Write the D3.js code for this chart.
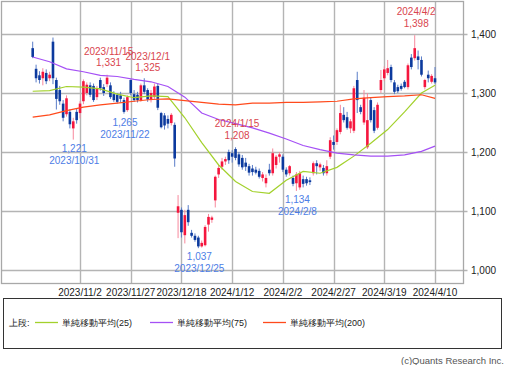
<!DOCTYPE html>
<html><head><meta charset="utf-8">
<script src="https://cdn.jsdelivr.net/npm/d3@7"></script>
<style>
html,body{margin:0;padding:0;background:#fff;}
svg{display:block;}
text{font-family:"Liberation Sans",Arial,sans-serif;}
</style></head>
<body>
<svg id="chart" width="508" height="365"></svg>
<script>
const dates = [
"2023/10/13","2023/10/16","2023/10/17","2023/10/18","2023/10/19","2023/10/20","2023/10/23","2023/10/24","2023/10/25","2023/10/26","2023/10/27","2023/10/30","2023/10/31",
"2023/11/1","2023/11/2","2023/11/6","2023/11/7","2023/11/8","2023/11/9","2023/11/10","2023/11/13","2023/11/14","2023/11/15","2023/11/16","2023/11/17","2023/11/20","2023/11/21","2023/11/22","2023/11/24","2023/11/27","2023/11/28","2023/11/29","2023/11/30",
"2023/12/1","2023/12/4","2023/12/5","2023/12/6","2023/12/7","2023/12/8","2023/12/11","2023/12/12","2023/12/13","2023/12/14","2023/12/15","2023/12/18","2023/12/19","2023/12/20","2023/12/21","2023/12/22","2023/12/25","2023/12/26","2023/12/27","2023/12/28","2023/12/29",
"2024/1/4","2024/1/5","2024/1/9","2024/1/10","2024/1/11","2024/1/12","2024/1/15","2024/1/16","2024/1/17","2024/1/18","2024/1/19","2024/1/22","2024/1/23","2024/1/24","2024/1/25","2024/1/26","2024/1/29","2024/1/30","2024/1/31",
"2024/2/1","2024/2/2","2024/2/5","2024/2/6","2024/2/7","2024/2/8","2024/2/9","2024/2/13","2024/2/14","2024/2/15","2024/2/16","2024/2/19","2024/2/20","2024/2/21","2024/2/22","2024/2/26","2024/2/27","2024/2/28","2024/2/29",
"2024/3/1","2024/3/4","2024/3/5","2024/3/6","2024/3/7","2024/3/8","2024/3/11","2024/3/12","2024/3/13","2024/3/14","2024/3/15","2024/3/18","2024/3/19","2024/3/21","2024/3/22","2024/3/25","2024/3/26","2024/3/27","2024/3/28","2024/3/29",
"2024/4/1","2024/4/2","2024/4/3","2024/4/4","2024/4/5","2024/4/8","2024/4/9","2024/4/10"];

const open = [1376,1341,1330,1325,1334,1325,1387,1322,1305,1282,
1264,1268,1240,1268,1266,1286,1300,1313,1312,1293,
1322,1310,1315,1313,1298,1297,1296,1288,1271,1322,
1298,1297,1288,1313,1305,1288,1293,1312,1266,1262,
1256,1249,1246,1097,1102,1059,1102,1063,1058,1055,
1040,1042,1077,1085,1118,1162,1175,1184,1200,1198,
1205,1196,1190,1182,1176,1172,1170,1168,1156,1147,
1170,1164,1178,1192,1192,1170,1164,1156,1147,1140,
1154,1154,1152,1164,1181,1174,1173,1164,1192,1217,
1217,1234,1263,1259,1240,1236,1322,1276,1250,1208,
1288,1271,1241,1305,1325,1334,1344,1318,1310,1312,
1319,1310,1360,1359,1362,1356,1310,1331,1319,1325];
const high = [1387,1348,1337,1342,1340,1336,1394,1326,1312,1288,
1296,1272,1258,1273,1286,1323,1318,1318,1316,1312,
1326,1315,1331,1318,1303,1300,1302,1292,1296,1323,
1305,1302,1316,1325,1308,1305,1316,1316,1268,1266,
1262,1266,1250,1127,1106,1102,1110,1068,1062,1058,
1050,1076,1095,1092,1160,1178,1190,1192,1204,1203,
1208,1200,1195,1190,1180,1178,1175,1172,1166,1162,
1180,1206,1195,1200,1196,1174,1178,1160,1166,1168,
1160,1158,1157,1184,1186,1182,1178,1186,1225,1228,
1240,1280,1276,1268,1256,1312,1336,1280,1305,1300,
1292,1276,1284,1339,1345,1356,1348,1322,1314,1316,
1322,1350,1366,1398,1372,1362,1324,1338,1332,1344];
const low = [1359,1318,1316,1313,1315,1320,1315,1272,1280,1252,
1260,1240,1221,1248,1257,1281,1296,1293,1285,1288,
1304,1295,1310,1290,1285,1282,1284,1265,1268,1296,
1285,1284,1285,1298,1285,1284,1290,1271,1240,1238,
1240,1245,1175,1054,1055,1045,1075,1055,1048,1037,
1038,1040,1065,1080,1106,1156,1170,1178,1180,1182,
1186,1175,1170,1168,1160,1160,1162,1155,1150,1140,
1160,1160,1172,1182,1166,1158,1160,1142,1134,1136,
1140,1143,1144,1160,1162,1168,1160,1160,1188,1204,
1212,1230,1250,1238,1232,1232,1266,1264,1246,1205,
1250,1232,1238,1300,1320,1330,1318,1298,1300,1304,
1308,1306,1340,1355,1340,1328,1306,1318,1316,1315];
const close = [1361,1325,1322,1336,1320,1331,1325,1290,1286,1258,
1291,1247,1252,1254,1282,1320,1314,1297,1288,1308,
1308,1300,1326,1293,1288,1285,1290,1268,1293,1300,
1288,1288,1313,1302,1289,1300,1311,1275,1242,1245,
1248,1263,1189,1108,1064,1093,1081,1058,1051,1040,
1046,1073,1090,1089,1158,1173,1184,1188,1186,1192,
1190,1179,1174,1175,1165,1166,1165,1158,1162,1156,
1164,1198,1192,1196,1170,1162,1176,1146,1162,1164,
1146,1147,1149,1181,1176,1179,1164,1176,1220,1212,
1237,1266,1254,1241,1252,1308,1288,1268,1292,1254,
1254,1236,1280,1322,1340,1342,1322,1302,1303,1307,
1310,1347,1344,1376,1356,1331,1322,1325,1329,1318];

// moving averages, sampled on these trading-day positions
const maIdx = [0,5,10,15,20,25,30,35,40,45,50,55,60,65,70,75,80,85,90,95,100,105,110,115,119];
const ma25  = [1303,1304,1311,1310,1307,1298,1292,1295,1294,1258,1216,1178,1150,1133,1130,1152,1167,1164,1174,1193,1215,1238,1268,1300,1313];
const ma75  = [1361,1353,1341,1336,1330,1328,1323,1319,1311,1293,1266,1255,1248,1241,1232,1222,1211,1204,1198,1195,1193,1193,1195,1201,1210];
const ma200 = [1259,1263,1270,1276,1280,1283,1286,1289,1290,1287,1284,1281,1280,1283,1283,1284,1284,1285,1286,1290,1292,1294,1295,1297,1291];

const tickDates = ["2023/11/2","2023/11/27","2023/12/18","2024/1/12","2024/2/2","2024/2/27","2024/3/19","2024/4/10"];
const yTicks = [1000,1100,1200,1300,1400];

const highMarks = [["2023/11/15",1331],["2023/12/1",1325],["2024/1/15",1208],["2024/4/2",1398]];
const lowMarks  = [["2023/10/31",1221],["2023/11/22",1265],["2023/12/25",1037],["2024/2/8",1134]];

const legendLabels = ["単純移動平均(25)","単純移動平均(75)","単純移動平均(200)"];
const maColors = ["#a3d12c","#a550f5","#ff4a1c"];

const svg = d3.select("#chart");
const PL = 1.5, PR = 463.5, PT = 1.5, PB = 283.5;

const x = d3.scaleLinear().domain([0, dates.length-1]).range([32.7, 435]);
const y = d3.scaleLinear().domain([1000, 1400]).range([270, 34]);
const fmt = d3.format(",");

// grid
const g = svg.append("g");
g.selectAll("line.h").data(yTicks).join("line")
  .attr("x1", PL).attr("x2", PR + 4).attr("y1", d => Math.round(y(d))+0.5).attr("y2", d => Math.round(y(d))+0.5)
  .attr("stroke", "#b4b4b4").attr("stroke-width", 1.4);
g.selectAll("line.v").data(tickDates).join("line")
  .attr("x1", d => Math.round(x(dates.indexOf(d)))+0.5).attr("x2", d => Math.round(x(dates.indexOf(d)))+0.5)
  .attr("y1", PT).attr("y2", PB)
  .attr("stroke", "#b4b4b4").attr("stroke-width", 1.4);
g.append("rect").attr("x", PL).attr("y", PT).attr("width", PR-PL).attr("height", PB-PT)
  .attr("fill", "none").attr("stroke", "#a8a8a8").attr("stroke-width", 1.3);

// axis labels
svg.append("g").selectAll("text").data(tickDates).join("text")
  .attr("x", d => x(dates.indexOf(d))).attr("y", 295.5)
  .attr("text-anchor", "middle").attr("font-size", 10).attr("fill", "#222")
  .text(d => d);
svg.append("g").selectAll("text").data(yTicks).join("text")
  .attr("x", 471).attr("y", d => y(d) + 3.5)
  .attr("font-size", 10).attr("fill", "#222")
  .text(d => fmt(d));

// candles
const cw = 2.6;
const cg = svg.append("g");
dates.forEach((d, i) => {
  const up = close[i] >= open[i];
  const cx = x(i);
  cg.append("line").attr("x1", cx).attr("x2", cx).attr("y1", y(high[i])).attr("y2", y(low[i]))
    .attr("stroke", up ? "#f7889c" : "#5a7dc8").attr("stroke-width", 1);
  const top = y(Math.max(open[i], close[i])), bot = y(Math.min(open[i], close[i]));
  cg.append("rect").attr("x", cx - cw/2).attr("y", top).attr("width", cw).attr("height", Math.max(1, bot - top))
    .attr("fill", up ? "#f5163e" : "#0c3a9e");
});

// moving averages
const line = d3.line().x((d, k) => x(maIdx[k])).y(d => y(d));
[ma25, ma75, ma200].forEach((arr, k) => {
  svg.append("path").datum(arr).attr("d", line).attr("fill", "none")
    .attr("stroke", maColors[k]).attr("stroke-width", 1.2);
});

// high / low annotations
const ag = svg.append("g").attr("font-size", 10).attr("text-anchor", "middle");
highMarks.forEach(([d, v], k) => {
  const cx = x(dates.indexOf(d)) + 1.5 + (k === 1 ? 2 : 0), cy = y(v) + (k === 1 ? 1.5 : 0);
  ag.append("text").attr("x", cx).attr("y", cy - 20).attr("fill", "#d9454e").text(d);
  ag.append("text").attr("x", cx).attr("y", cy - 8.5).attr("fill", "#d9454e").text(fmt(v));
});
lowMarks.forEach(([d, v]) => {
  const cx = x(dates.indexOf(d)) + 1, cy = y(v);
  ag.append("text").attr("x", cx).attr("y", cy + 12).attr("fill", "#4d7de6").text(fmt(v));
  ag.append("text").attr("x", cx).attr("y", cy + 24).attr("fill", "#4d7de6").text(d);
});

// legend
const lg = svg.append("g");
lg.append("rect").attr("x", 3.5).attr("y", 298.5).attr("width", 498).attr("height", 50)
  .attr("fill", "none").attr("stroke", "#333").attr("stroke-width", 1);
lg.append("text").attr("x", 9).attr("y", 326).attr("font-size", 9)
  .attr("font-family", "'Noto Sans CJK JP',sans-serif").attr("fill", "#222").text("上段:");
const legX = [35, 150, 263];
legendLabels.forEach((t, k) => {
  lg.append("line").attr("x1", legX[k]).attr("x2", legX[k] + 23).attr("y1", 322.5).attr("y2", 322.5)
    .attr("stroke", maColors[k]).attr("stroke-width", 1.3);
  lg.append("text").attr("x", legX[k] + 27).attr("y", 326).attr("font-size", 9)
    .attr("font-family", "'Noto Sans CJK JP',sans-serif").attr("fill", "#222").text(t);
});

svg.append("text").attr("x", 504).attr("y", 364).attr("text-anchor", "end")
  .attr("font-size", 9.5).attr("fill", "#555").text("(c)Quants Research Inc.");
</script>
</body></html>
